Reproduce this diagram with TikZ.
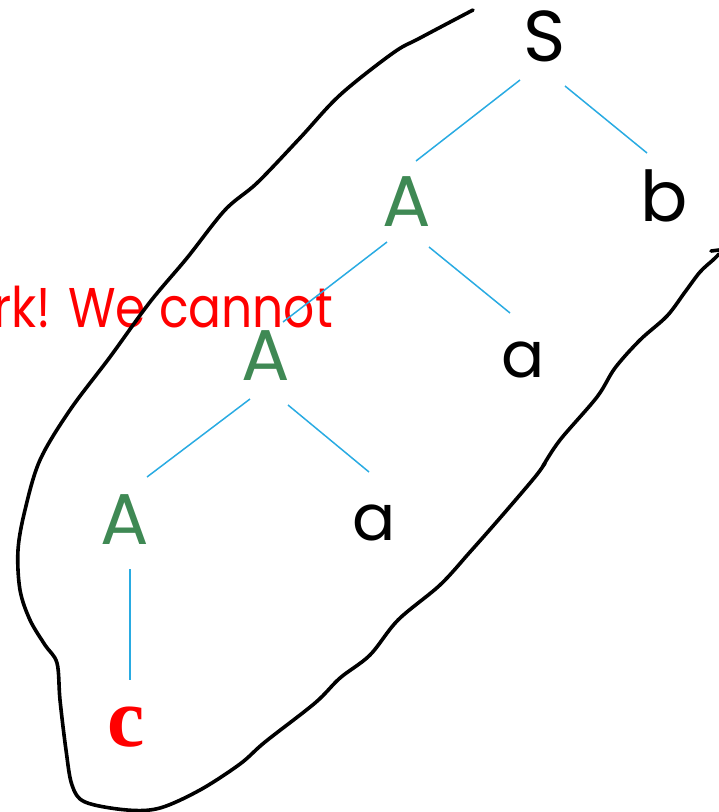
\documentclass[tikz,border=0pt]{standalone}
\usepackage{fontspec}
\setmainfont{Poppins}
\newfontfamily\notefont{Poppins}[FakeStretch=0.87]
\newfontfamily\leaffont{Liberation Serif}
\usepackage{xcolor}
\usepackage{tikz}
\definecolor{treeGreen}{HTML}{3F8954}
\definecolor{treeBlue}{HTML}{29ABE2}
\definecolor{noteRed}{HTML}{FF0000}

\begin{document}
\begin{tikzpicture}[
  x=1pt, y=-1pt,
  every node/.style={inner sep=0pt},
  sym/.style={font=\fontsize{72}{72}\selectfont},
  nonterm/.style={sym, text=treeGreen},
  term/.style={font=\fontsize{64}{64}\selectfont},
  leaf/.style={text=noteRed, font=\leaffont\bfseries\fontsize{84}{84}\selectfont},
  note/.style={text=noteRed, font=\notefont\fontsize{56}{56}\selectfont},
  edge/.style={treeBlue, line width=1.5pt},
  lasso/.style={black, line width=3.6pt, line cap=round, line join=round},
]
\useasboundingbox (0,0) rectangle (719,812);

% Remark behind the tree
\node[note, anchor=base east] (warn) at (333,327) {rk! We cannot};

% Tree nodes
\node[sym] (S) at (545,36) {S};
\node[nonterm] (A1) at (407,202) {A};
\node[term, font=\fontsize{70}{70}\selectfont] (b) at (664,196) {b};
\node[nonterm] (A2) at (266,356) {A};
\node[term] (a1) at (523,360) {a};
\node[nonterm] (A3) at (125,520) {A};
\node[term] (a2) at (374,523) {a};
\node[leaf] (c) at (126,727) {c};

% Edges
\draw[edge] ([shift={(-25,44)}]S.center) -- ([shift={(9,-41)}]A1.center);
\draw[edge] ([shift={(20,50)}]S.center) -- ([shift={(-17,-43)}]b.center);
\draw[edge] ([shift={(-20,40)}]A1.center) -- ([shift={(17,-34)}]A2.center);
\draw[edge] ([shift={(22,45)}]A1.center) -- ([shift={(-13,-47)}]a1.center);
\draw[edge] ([shift={(-16,43)}]A2.center) -- ([shift={(22,-43)}]A3.center);
\draw[edge] ([shift={(22,49)}]A2.center) -- ([shift={(-5,-51)}]a2.center);
\draw[edge] ([shift={(5,49)}]A3.center) -- ([shift={(4,-47)}]c.center);

% Hand-drawn loop around the subtree
\draw[lasso] plot[smooth, tension=0.55] coordinates {
  (473,10) (420,38) (393,53) (340,95) (300,138) (257,183) (225,210)
  (187,258) (150,302) (110,357) (70,410) (40,460) (25,510) (18,550)
  (20,590) (30,620) (45,645) (57,663) (60,700) (66,750) (72,785)
  (85,802) (127,810) (160,808) (200,790) (240,764) (265,742) (315,703)
  (340,678) (370,655) (398,620) (440,585) (470,552) (500,518) (535,477)
  (545,463)};
\draw[lasso] plot[smooth, tension=0.55] coordinates {
  (543,466) (560,440) (597,397) (615,368) (640,340) (667,316)
  (685,292) (700,272) (713,260) (719,254)};
\draw[lasso] (711,251) -- (719,250);
\end{tikzpicture}
\end{document}
